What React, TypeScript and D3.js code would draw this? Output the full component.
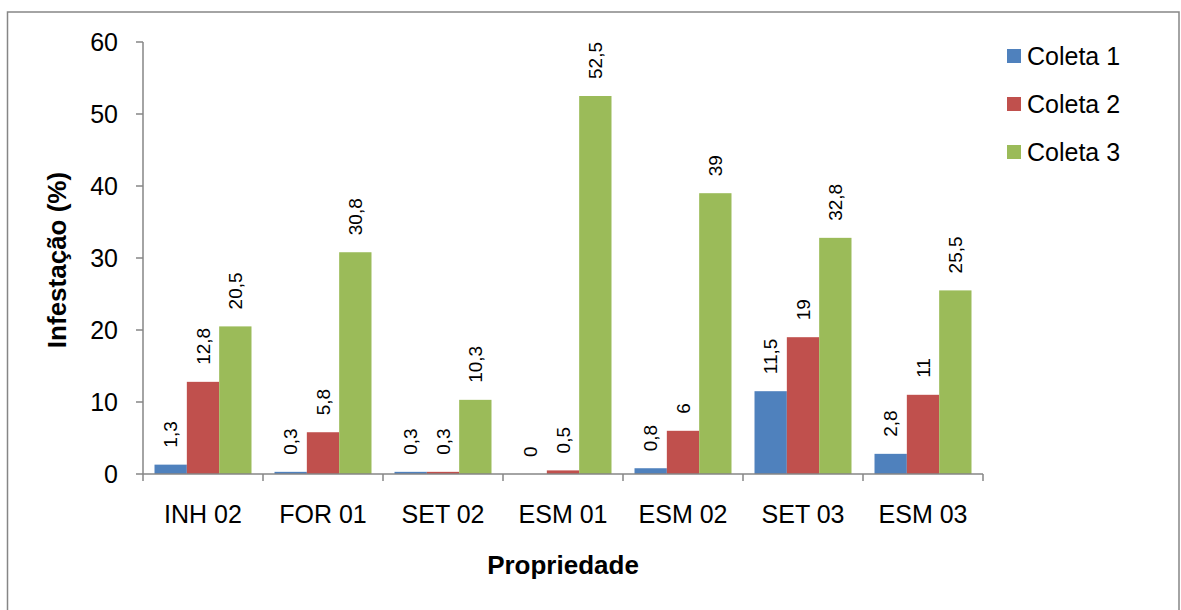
import React from "react";
import * as d3 from "d3";

const categories = ["INH 02", "FOR 01", "SET 02", "ESM 01", "ESM 02", "SET 03", "ESM 03"];
const seriesNames = ["Coleta 1", "Coleta 2", "Coleta 3"];
const coleta1 = [1.3, 0.3, 0.3, 0, 0.8, 11.5, 2.8];
const coleta2 = [12.8, 5.8, 0.3, 0.5, 6, 19, 11];
const coleta3 = [20.5, 30.8, 10.3, 52.5, 39, 32.8, 25.5];
const yTicks = [0, 10, 20, 30, 40, 50, 60];
const colors = ["#4F81BD", "#C0504D", "#9BBB59"];

const seriesValues = [coleta1, coleta2, coleta3];
const FONT = "'Liberation Sans', Arial, Helvetica, sans-serif";

export default function App() {
  const W = 1181;
  const H = 610;
  const left = 143;
  const right = 983;
  const top = 42;
  const bottom = 474;

  const x0 = d3.scaleBand<string>().domain(categories).range([left, right]).padding(0);
  const x1 = d3
    .scaleBand<string>()
    .domain(seriesNames)
    .range([0, x0.bandwidth()])
    .paddingInner(0)
    .paddingOuter(0.356);
  const y = d3.scaleLinear().domain([0, 60]).range([bottom, top]);
  const fmt = (v: number) => String(v).replace(".", ",");
  const axisColor = "#868686";

  const boundaries = categories.map((c) => x0(c) as number).concat([right]);

  return (
    <svg
      width={W}
      height={H}
      style={{ position: "absolute", left: 0, top: 0, fontFamily: FONT }}
    >
      <rect x={0} y={0} width={W} height={H} fill="#fff" />
      <rect x={7.5} y={12} width={1171.5} height={620} fill="none" stroke="#868686" strokeWidth={1.5} />

      {/* bars */}
      {seriesValues.map((vals, si) =>
        vals.map((v, ci) => {
          const bx = (x0(categories[ci]) as number) + (x1(seriesNames[si]) as number);
          return (
            <rect
              key={`b-${si}-${ci}`}
              x={bx}
              y={y(v)}
              width={x1.bandwidth()}
              height={bottom - y(v)}
              fill={colors[si]}
            />
          );
        })
      )}

      {/* value labels */}
      {seriesValues.map((vals, si) =>
        vals.map((v, ci) => {
          const cx = (x0(categories[ci]) as number) + (x1(seriesNames[si]) as number) + x1.bandwidth() / 2;
          const ty = y(v) - 17;
          return (
            <text
              key={`l-${si}-${ci}`}
              transform={`translate(${cx},${ty}) rotate(-90)`}
              fontSize={19}
              dominantBaseline="central"
              textAnchor="start"
              fill="#000"
            >
              {fmt(v)}
            </text>
          );
        })
      )}

      {/* y axis */}
      <line x1={left} x2={left} y1={top} y2={bottom} stroke={axisColor} strokeWidth={1.5} />
      {yTicks.map((t) => (
        <g key={`yt-${t}`}>
          <line x1={left - 7} x2={left} y1={y(t)} y2={y(t)} stroke={axisColor} strokeWidth={1.5} />
          <text x={118} y={y(t) + 9} textAnchor="end" fontSize={25} fill="#000">
            {t}
          </text>
        </g>
      ))}

      {/* x axis */}
      <line x1={left} x2={right} y1={bottom} y2={bottom} stroke={axisColor} strokeWidth={1.5} />
      {boundaries.map((bx, i) => (
        <line key={`xt-${i}`} x1={bx} x2={bx} y1={bottom} y2={bottom + 7} stroke={axisColor} strokeWidth={1.5} />
      ))}
      {categories.map((c) => (
        <text
          key={`xl-${c}`}
          x={(x0(c) as number) + x0.bandwidth() / 2}
          y={523}
          textAnchor="middle"
          fontSize={25}
          fill="#000"
        >
          {c}
        </text>
      ))}

      {/* axis titles */}
      <text x={(left + right) / 2} y={574} textAnchor="middle" fontSize={26} fontWeight="bold" fill="#000">
        Propriedade
      </text>
      <text
        transform={`translate(66,260) rotate(-90)`}
        textAnchor="middle"
        fontSize={26}
        fontWeight="bold"
        fill="#000"
      >
        Infestação (%)
      </text>

      {/* legend */}
      {seriesNames.map((s, i) => (
        <g key={`lg-${s}`}>
          <rect x={1007} y={49 + i * 48} width={14} height={14} fill={colors[i]} />
          <text x={1027} y={56 + i * 48 + 9} fontSize={25} fill="#000">
            {s}
          </text>
        </g>
      ))}
    </svg>
  );
}
